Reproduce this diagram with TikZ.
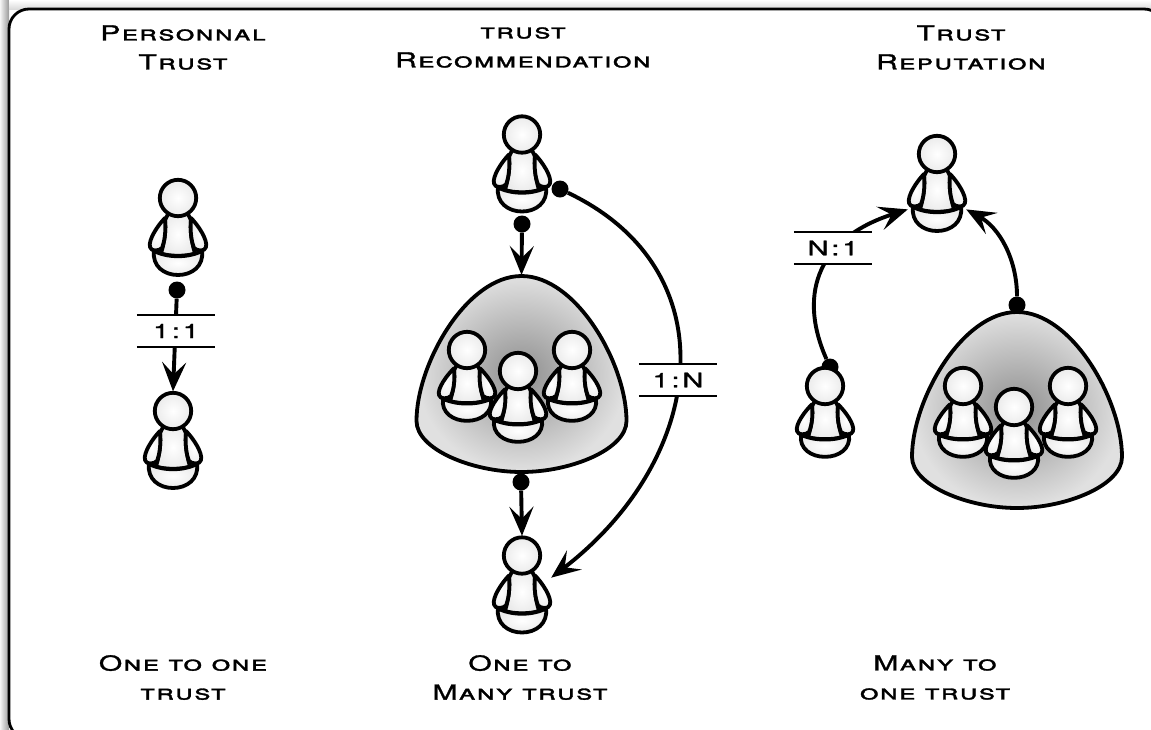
\documentclass[tikz,border=0pt]{standalone}
\usepackage{fontspec}
\setmainfont[FakeStretch=1.45,FakeBold=1.4,LetterSpace=6,Letters=SmallCaps]{TeX Gyre Heros}
\usepackage{tikz}
\usetikzlibrary{arrows.meta,positioning,shadings}
\tikzset{>/.tip={Stealth[length=29pt,width=24pt,inset=12pt]}}
\tikzset{link/.style={line width=3.9pt,->}}
\tikzset{linkdot/.style={circle,fill=black,inner sep=0pt,minimum size=17pt}}
\tikzset{linklabel/.style={fill=white,inner sep=0pt,minimum width=78pt,minimum height=32pt,font=\fontsize{20}{20}\selectfont\addfontfeature{LetterSpace=14},
    append after command={(\tikzlastnode.north west) edge[line width=1.6pt] (\tikzlastnode.north east)
      (\tikzlastnode.south west) edge[line width=1.6pt] (\tikzlastnode.south east)}}}
\tikzset{caption/.style={align=center,font=\fontsize{20.7}{29}\selectfont}}
\tikzset{skin/.style={draw=black,line width=3.8pt,inner color=white,outer color=black!8,line join=round}}
\tikzset{dome/.pic={
    \path[draw=black,line width=3.8pt,inner color=black!44,outer color=black!12]
      (0,-98) .. controls (-55,-98) and (-105,-10) .. (-105,47)
      .. controls (-105,75) and (-50,98) .. (0,98)
      .. controls (50,98) and (105,75) .. (105,47)
      .. controls (105,-10) and (55,-98) .. (0,-98) -- cycle;
  }}
\tikzset{pics/person/.style={code={
    \node[inner sep=0pt,minimum width=58pt,minimum height=99pt] (-box) at (0,30) {};
    \begin{scope}[yscale=#1]
    % body
    \path[skin] (-9,14) -- (9,14) -- (13,22) .. controls (12,32) and (13,42) .. (17,55.5)
      .. controls (8,58.5) and (-8,58.5) .. (-17,55.5) .. controls (-13,42) and (-12,32) .. (-13,22) -- cycle;
    % seat
    \path[skin] (-24,53) .. controls (-10,60) and (10,60) .. (24,53)
      .. controls (26,68) and (14,77) .. (0,77)
      .. controls (-14,77) and (-26,68) .. (-24,53) -- cycle;
    % arms
    \path[skin] (-13,20) .. controls (-20,27) and (-30,42) .. (-28,49)
      .. controls (-27,54) and (-19,53) .. (-16,50) .. controls (-13,42) and (-12,32) .. (-13,20) -- cycle;
    \path[skin] (13,20) .. controls (20,27) and (30,42) .. (28,49)
      .. controls (27,54) and (19,53) .. (16,50) .. controls (13,42) and (12,32) .. (13,20) -- cycle;
    \end{scope}
    % head
    \path[skin] (0,0) circle (18.2);
  }},pics/person/.default=1}

\begin{document}
\begin{tikzpicture}[x=1pt,y=-1pt]
  \useasboundingbox (0,0) rectangle (1151,729);
  \clip (0,0) rectangle (1151,729);
  % frame with soft edge
  \fill[left color=black!4,right color=black!40] (0,0) rectangle (9,729);
  \fill[top color=white,bottom color=black!14] (9,0) rectangle (1151,9);
  \draw[line width=2.8pt,fill=white,rounded corners=20pt] (9,9) -- (1164,9) -- (1164,739) -- (9,739) -- cycle;

  % first column
  \node[caption](title1) at (183,47.5) {Personnal\\Trust};
  \pic (alice) at (178,198) {person};
  \pic (bob) at (173,411) {person};
  \node[linkdot](d1) at (177,290) {};
  \draw[link] (d1) -- (bob-box.north);
  \node[linklabel](l1) at (176,331) {1:1};
  \node[caption](cap1) at (183,677.5) {One to one\\trust};

  % second column
  \node[caption](title2) at (523,47.5) {trust\\Recommendation};
  \pic (src) at (522,134.5) {person};
  \pic (grpa) at (521.5,374) {dome};
  \pic (a1) at (467,350) {person=0.92};
  \pic (a3) at (572,350) {person=0.92};
  \pic (a2) at (518,371) {person=0.92};
  \pic (dst) at (522,555.5) {person};
  \node[linkdot](d2) at (522,224) {};
  \node[linkdot](d3) at (560,189) {};
  \node[linkdot](d4) at (521,482) {};
  \coordinate (grpatop) at (521.5,275);
  \draw[link] (d2) -- (grpatop);
  \draw[link] (d4) -- (dst-box.north);
  \draw[link] (d3) .. controls (730,270) and (707,458) .. (dst-box.15);
  \node[linklabel](l2) at (678,380) {1:N};
  \node[caption](cap2) at (520,677.5) {One to\\Many trust};

  % third column
  \node[caption](title3) at (961,47.5) {Trust\\Reputation};
  \pic (rep) at (937,154) {person};
  \pic (grpb) at (1017,410) {dome};
  \pic (b1) at (963,386) {person=0.92};
  \pic (b3) at (1068,386) {person=0.92};
  \pic (b2) at (1014,407) {person=0.92};
  \node[linkdot](d5) at (830,367) {};
  \node[linkdot](d6) at (1017,305) {};
  \pic (solo) at (825,386) {person=0.92};
  \draw[link] (d5) .. controls (800,300) and (812,240) .. (rep-box.-139);
  \draw[link] (d6) .. controls (1017,260) and (1000,228) .. (rep-box.-41);
  \node[linklabel](l3) at (833,248) {N:1};
  \node[caption](cap3) at (935,677.5) {Many to\\one trust};
\end{tikzpicture}
\end{document}
